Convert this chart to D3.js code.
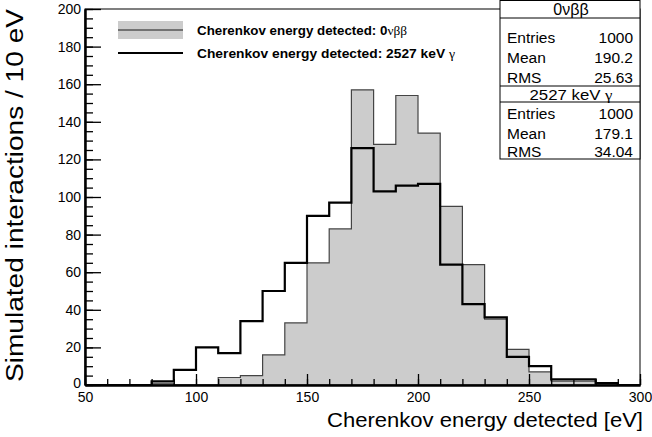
<!DOCTYPE html>
<html>
<head>
<meta charset="utf-8">
<script src="https://cdn.jsdelivr.net/npm/d3@7"></script>
<style>
  body { margin: 0; background: #fff; }
  text { font-family: "Liberation Sans", Arial, sans-serif; }
</style>
</head>
<body>
<script>
// bin lower edges [eV], width 10
var binEdges = [50,60,70,80,90,100,110,120,130,140,150,160,170,180,190,200,210,220,230,240,250,260,270,280,290];
var nuBB  = [0,0,0,1,0,0,4,5,16,33,65,83,157,128,154,134,95,64,35,19,7,2,2,1,0];
var gamma = [0,0,0,2,8,20,17,34,50,65,90,97,126,103,106,107,64,43,36,15,10,3,3,1,0];
var xTicks = [50,100,150,200,250,300];
var yTicks = [0,20,40,60,80,100,120,140,160,180,200];
var statsNu    = [["Entries","1000"],["Mean","190.2"],["RMS","25.63"]];
var statsGamma = [["Entries","1000"],["Mean","179.1"],["RMS","34.04"]];

var W = 652, H = 437;
var margin = {top: 9, right: 12, bottom: 52, left: 85};

var svg = d3.select("body").append("svg")
  .attr("width", W).attr("height", H);

svg.append("rect").attr("width", W).attr("height", H).attr("fill", "#fff");

var xScale = d3.scaleLinear().domain([50,300]).range([margin.left, W - margin.right]);
var yScale = d3.scaleLinear().domain([0,200]).range([H - margin.bottom, margin.top]);

function stepPts(vals) {
  var pts = [[50,0]];
  binEdges.forEach(function(b,i){ pts.push([b, vals[i]]); });
  pts.push([300, vals[vals.length-1]]);
  pts.push([300, 0]);
  return pts;
}

var line = d3.line()
  .curve(d3.curveStepAfter)
  .x(function(d){ return xScale(d[0]); })
  .y(function(d){ return yScale(d[1]); });

var area = d3.area()
  .curve(d3.curveStepAfter)
  .x(function(d){ return xScale(d[0]); })
  .y0(yScale(0))
  .y1(function(d){ return yScale(d[1]); });

// 0vbb: filled grey
svg.append("path").datum(stepPts(nuBB))
  .attr("d", area).attr("fill", "#cccccc");
svg.append("path").datum(stepPts(nuBB))
  .attr("d", line).attr("fill", "none")
  .attr("stroke", "#444").attr("stroke-width", 1.2);

// 2527 keV gamma: thick black
svg.append("path").datum(stepPts(gamma))
  .attr("d", line).attr("fill", "none")
  .attr("stroke", "#000").attr("stroke-width", 2.2);

// frame
svg.append("rect")
  .attr("x", xScale(50)).attr("y", yScale(200))
  .attr("width", xScale(300) - xScale(50))
  .attr("height", yScale(0) - yScale(200))
  .attr("fill", "none").attr("stroke", "#000").attr("stroke-width", 1);

// y axis
var yMinor = svg.append("g").attr("transform", "translate(" + xScale(50) + ",0)")
  .call(d3.axisLeft(yScale).tickValues(d3.range(0,201,5)).tickSize(-8).tickSizeOuter(0).tickFormat(""));
var yMajor = svg.append("g").attr("transform", "translate(" + xScale(50) + ",0)")
  .call(d3.axisLeft(yScale).tickValues(yTicks).tickSize(-16).tickSizeOuter(0).tickPadding(4));
yMajor.selectAll("text").attr("font-size", 14).attr("fill", "#000")
  .attr("font-family", "'Liberation Sans', Arial, sans-serif");
yMajor.selectAll(".tick").filter(function(d){ return d === 0; }).select("text").attr("dy", "0.2em");
[yMinor, yMajor].forEach(function(g){
  g.select(".domain").attr("stroke-width", 2);
  g.selectAll(".tick line").attr("stroke-width", 1.3);
});

// x axis
var xMinor = svg.append("g").attr("transform", "translate(0," + yScale(0) + ")")
  .call(d3.axisBottom(xScale).tickValues(d3.range(50,301,10)).tickSize(-6).tickSizeOuter(0).tickFormat(""));
var xMajor = svg.append("g").attr("transform", "translate(0," + yScale(0) + ")")
  .call(d3.axisBottom(xScale).tickValues(xTicks).tickSize(-11).tickSizeOuter(0).tickPadding(7));
xMajor.selectAll("text").attr("font-size", 14).attr("fill", "#000")
  .attr("font-family", "'Liberation Sans', Arial, sans-serif");
[xMinor, xMajor].forEach(function(g){
  g.select(".domain").attr("stroke-width", 2);
  g.selectAll(".tick line").attr("stroke-width", 1.3);
});

// axis titles
svg.append("text")
  .attr("x", 643).attr("y", 427)
  .attr("text-anchor", "end")
  .attr("font-size", 21)
  .attr("textLength", 316).attr("lengthAdjust", "spacingAndGlyphs")
  .text("Cherenkov energy detected [eV]");

svg.append("text")
  .attr("transform", "translate(23,9) rotate(-90)")
  .attr("text-anchor", "end")
  .attr("font-size", 23)
  .attr("textLength", 373).attr("lengthAdjust", "spacingAndGlyphs")
  .text("Simulated interactions / 10 eV");

// legend
var leg = svg.append("g");
leg.append("rect").attr("x", 118).attr("y", 21).attr("width", 65).attr("height", 18).attr("fill", "#cccccc");
leg.append("line").attr("x1", 118).attr("x2", 183).attr("y1", 30).attr("y2", 30)
  .attr("stroke", "#555").attr("stroke-width", 1.5);
leg.append("line").attr("x1", 118).attr("x2", 183).attr("y1", 53).attr("y2", 53)
  .attr("stroke", "#000").attr("stroke-width", 2.2);

var t1 = leg.append("text").attr("x", 197).attr("y", 34.5).attr("font-size", 13).attr("font-weight", "bold")
  .attr("textLength", 210).attr("lengthAdjust", "spacingAndGlyphs");
t1.append("tspan").text("Cherenkov energy detected: 0");
t1.append("tspan").attr("font-family", "'Liberation Serif', serif").attr("font-weight", "normal").text("\u03bd\u03b2\u03b2");
var t2 = leg.append("text").attr("x", 197).attr("y", 57.5).attr("font-size", 13).attr("font-weight", "bold")
  .attr("textLength", 258).attr("lengthAdjust", "spacingAndGlyphs");
t2.append("tspan").text("Cherenkov energy detected: 2527 keV ");
t2.append("tspan").attr("font-family", "'Liberation Serif', serif").attr("font-weight", "normal").text("\u03b3");

// stats box
var sb = svg.append("g");
var bx0 = 500, bx1 = 640;
sb.append("rect").attr("x", bx0).attr("y", 0.5).attr("width", bx1 - bx0).attr("height", 158.5)
  .attr("fill", "#fff").attr("stroke", "#000").attr("stroke-width", 1);
[18, 86, 102].forEach(function(yy){
  sb.append("line").attr("x1", bx0).attr("x2", bx1).attr("y1", yy).attr("y2", yy)
    .attr("stroke", "#000").attr("stroke-width", 1);
});

var h1 = sb.append("text").attr("x", (bx0 + bx1) / 2 + 1).attr("y", 14.5)
  .attr("text-anchor", "middle").attr("font-size", 16)
  .attr("font-family", "'Liberation Serif', serif");
h1.append("tspan").text("0\u03bd\u03b2\u03b2");
var h2 = sb.append("text").attr("x", (bx0 + bx1) / 2 + 1).attr("y", 99.5)
  .attr("text-anchor", "middle").attr("font-size", 15)
  .attr("textLength", 83).attr("lengthAdjust", "spacingAndGlyphs");
h2.append("tspan").text("2527 keV ");
h2.append("tspan").attr("font-family", "'Liberation Serif', serif").text("\u03b3");

function statRows(rows, ys) {
  rows.forEach(function(r, i){
    sb.append("text").attr("x", 507).attr("y", ys[i]).attr("font-size", 15.5).text(r[0]);
    sb.append("text").attr("x", 633).attr("y", ys[i]).attr("text-anchor", "end").attr("font-size", 15.5).text(r[1]);
  });
}
statRows(statsNu, [42.5, 63, 82.5]);
statRows(statsGamma, [118.5, 138.5, 157]);
</script>
</body>
</html>
